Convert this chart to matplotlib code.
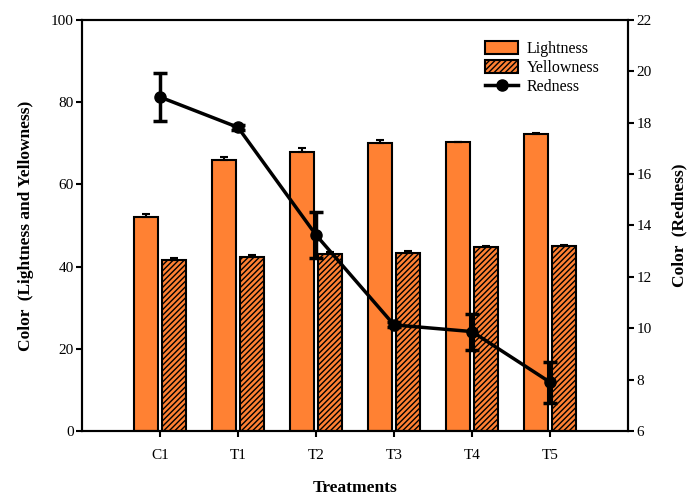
import matplotlib
matplotlib.use("Agg")
import matplotlib.pyplot as plt
import numpy as np
from matplotlib.lines import Line2D

plt.rcParams['font.family'] = ['Liberation Serif', 'DejaVu Serif']
plt.rcParams['hatch.linewidth'] = 1.0

categories = ["C1", "T1", "T2", "T3", "T4", "T5"]
lightness = [52.1, 65.9, 68.0, 70.0, 70.2, 72.2]
lightness_err = [0.7, 0.7, 0.8, 0.7, 0.2, 0.2]
yellowness = [41.6, 42.3, 43.0, 43.3, 44.7, 45.1]
yellowness_err = [0.4, 0.5, 0.6, 0.5, 0.2, 0.2]
redness = [19.0, 17.82, 13.63, 10.13, 9.87, 7.9]
redness_err = [0.92, 0.1, 0.9, 0.1, 0.7, 0.8]

orange = '#FF8133'

fig = plt.figure(figsize=(6.91, 4.97), dpi=100)
ax = fig.add_axes([0.1187, 0.1328, 0.9088 - 0.1187, 0.9598 - 0.1328])
x = np.arange(len(categories))
w = 0.31
off = 0.18

b1 = ax.bar(x - off, lightness, w, color=orange, edgecolor='black', linewidth=1.5,
            label='Lightness', zorder=2)
ax.errorbar(x - off, lightness, yerr=[np.zeros(len(x)), lightness_err], fmt='none',
            ecolor='black', elinewidth=1.5, capsize=3, capthick=1.5, zorder=3)
b2 = ax.bar(x + off, yellowness, w, color=orange, edgecolor='black', linewidth=1.5,
            hatch='//////', label='Yellowness', zorder=2)
ax.errorbar(x + off, yellowness, yerr=[np.zeros(len(x)), yellowness_err], fmt='none',
            ecolor='black', elinewidth=1.5, capsize=3, capthick=1.5, zorder=3)

ax.set_xlim(-1, 6)
ax.set_ylim(0, 100)
ax.set_xticks(x)
ax.set_xticklabels(categories)
ax.set_yticks([0, 20, 40, 60, 80, 100])
ax.tick_params(direction='out', length=4, width=1.5, labelsize=11)
ax.tick_params(axis='y', pad=2)
ax.tick_params(axis='x', pad=9)
for s in ax.spines.values():
    s.set_linewidth(1.5)
ax.set_xlabel('Treatments', fontsize=12.5, fontweight='bold', labelpad=13)
ax.set_ylabel('Color  (Lightness and Yellowness)', fontsize=12.5, fontweight='bold', labelpad=12)

ax2 = ax.twinx()
ax2.set_ylim(6, 22)
ax2.set_yticks([6, 8, 10, 12, 14, 16, 18, 20, 22])
ax2.errorbar(x, redness, yerr=redness_err, fmt='-o', color='black', lw=2.5,
             markersize=8, elinewidth=2.5, capsize=5, capthick=2.5,
             label='Redness', zorder=4)
ax2.tick_params(direction='out', length=4, width=1.5, labelsize=11, pad=2)
for s in ax2.spines.values():
    s.set_linewidth(1.5)
ax2.set_ylabel('Color  (Redness)', fontsize=12.5, fontweight='bold', labelpad=14)

h3 = Line2D([], [], color='black', lw=2.5, marker='o', markersize=8)
ax2.legend([b1, b2, h3], ['Lightness', 'Yellowness', 'Redness'],
           loc='upper right', bbox_to_anchor=(0.975, 0.985), frameon=False,
           fontsize=11.5, handlelength=2.1, handleheight=0.9, handletextpad=0.55,
           labelspacing=0.2)

fig.savefig('out.png', dpi=100)
